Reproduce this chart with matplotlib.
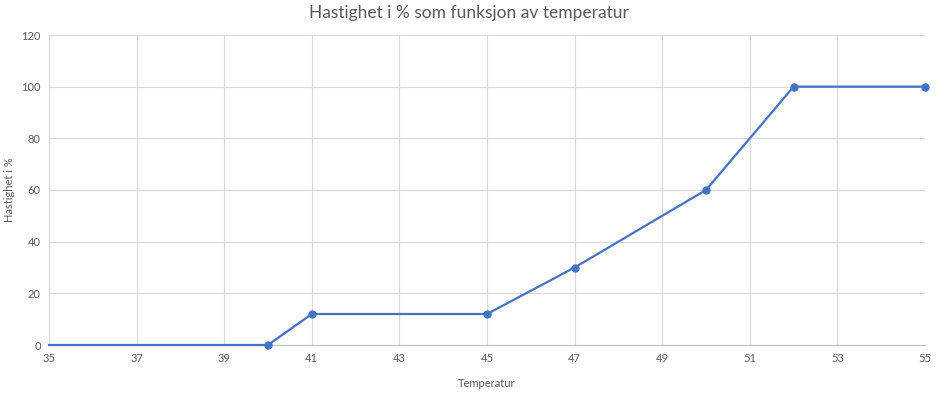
import matplotlib
matplotlib.use("Agg")
import matplotlib.pyplot as plt

temperature = [35, 40, 41, 45, 47, 50, 52, 55]
speed = [0, 0, 12, 12, 30, 60, 100, 100]
x_ticks = [35, 37, 39, 41, 43, 45, 47, 49, 51, 53, 55]
y_ticks = [0, 20, 40, 60, 80, 100, 120]

plt.rcParams['font.family'] = ['Lato', 'DejaVu Sans']
fig = plt.figure(figsize=(9.37, 3.93), dpi=100)
ax = fig.add_axes([49/937, 1-345/393, (925-49)/937, (345-35)/393])

ax.plot(temperature, speed, color='#4472C4', lw=1.6, marker='o', ms=5,
        markevery=list(range(1, len(temperature))), zorder=3, clip_on=False)

ax.set_xlim(35, 55)
ax.set_ylim(0, 120)
ax.set_xticks(x_ticks)
ax.set_yticks(y_ticks)
ax.grid(True, color='#d9d9d9', lw=0.8)
ax.set_axisbelow(True)
for s in ['top', 'right']:
    ax.spines[s].set_visible(False)
ax.spines['left'].set_color('#d9d9d9')
ax.spines['bottom'].set_color('#bfbfbf')
ax.spines['left'].set_linewidth(0.8)
ax.spines['bottom'].set_linewidth(0.8)
ax.tick_params(length=0, labelsize=8, colors='#595959', pad=6)
ax.set_xlabel('Temperatur', fontsize=8, color='#595959', labelpad=10)
ax.set_ylabel('Hastighet i %', fontsize=8, color='#595959', va='center')
ax.yaxis.set_label_coords(-39/876, 0.5)
fig.text(0.5, 1-13/393, 'Hastighet i % som funksjon av temperatur', ha='center', va='center',
         fontsize=12.5, color='#595959')
fig.savefig('out.png', dpi=100, facecolor='white')
